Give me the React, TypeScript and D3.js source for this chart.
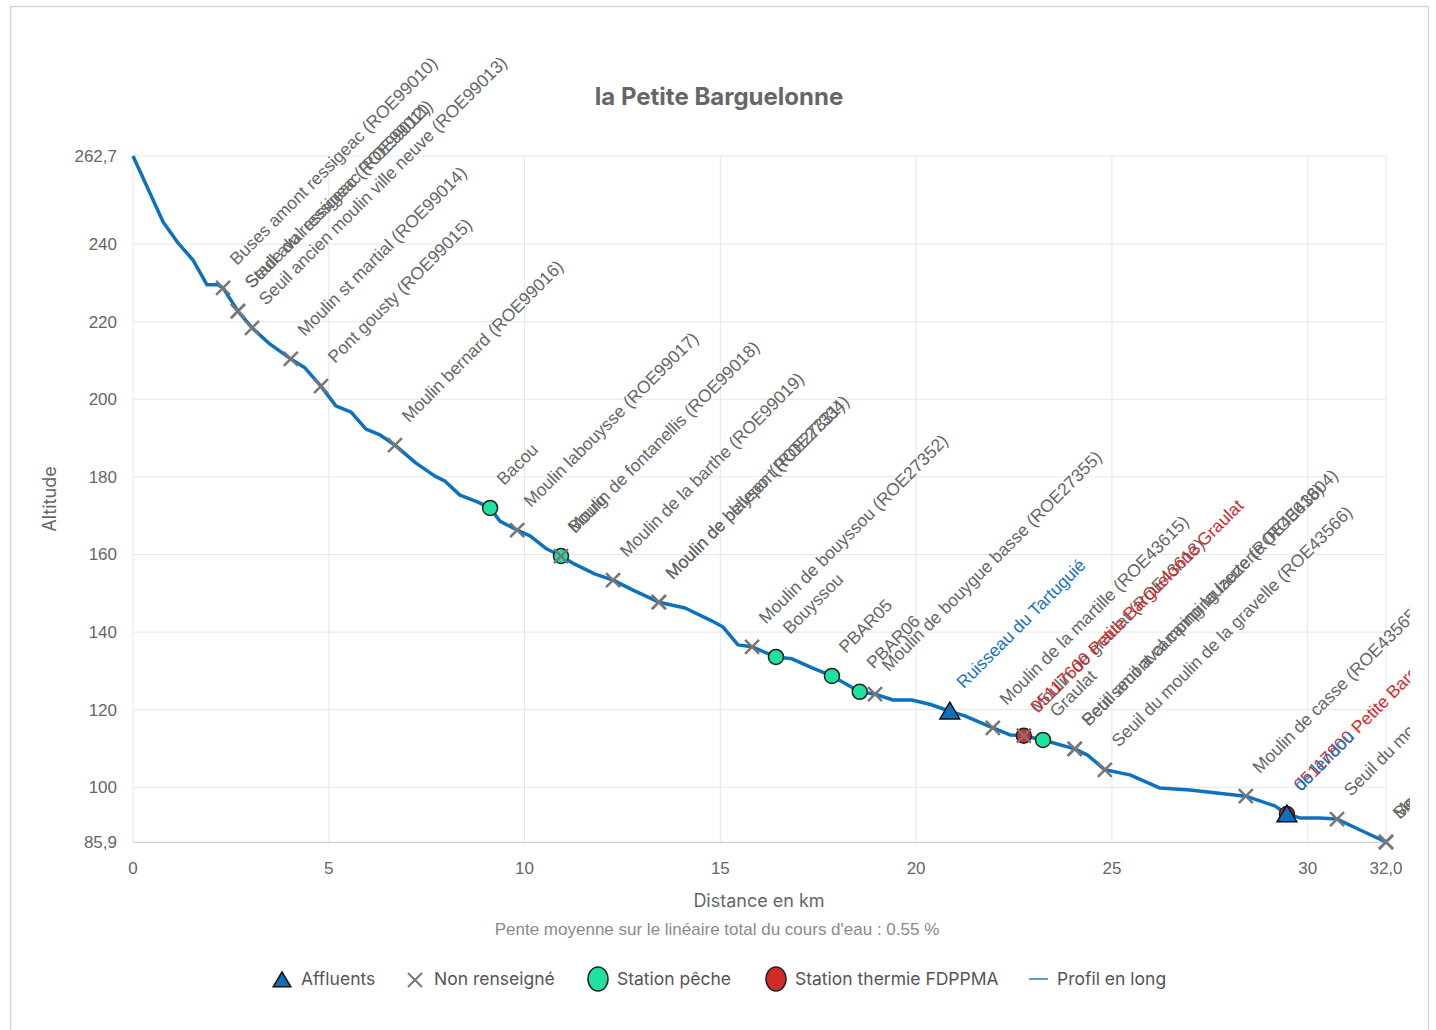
import React from 'react';
import * as d3 from 'd3';

// profil en long (km, altitude)
const profileKm = [0, 0.77, 1.15, 1.53, 1.89, 2.17, 2.3, 2.68, 3.04, 3.5, 4.03, 4.39, 4.8, 5.18, 5.57, 5.95, 6.31, 6.69, 7.22, 7.71, 7.97, 8.35, 8.81, 9.12, 9.37, 9.81, 10.14, 10.57, 10.93, 11.28, 11.79, 12.26, 12.77, 13.43, 14.1, 14.74, 15.07, 15.45, 15.81, 16.42, 16.83, 17.36, 17.85, 18.56, 18.95, 19.41, 19.89, 20.35, 20.86, 21.24, 21.96, 22.4, 22.75, 23.24, 24.05, 24.38, 24.82, 25.46, 26.23, 26.99, 28.42, 29.16, 29.47, 29.8, 30.31, 30.75, 31.34, 32.0];
const profileAlt = [262.7, 245.7, 240.3, 235.9, 229.5, 229.5, 228.7, 222.7, 218.4, 214.2, 210.4, 208.1, 203.4, 198.3, 196.7, 192.3, 190.8, 188.2, 183.6, 180.2, 178.9, 175.3, 173.5, 172.0, 168.6, 166.3, 164.8, 161.4, 159.6, 157.5, 155.0, 153.4, 150.8, 147.7, 146.2, 143.1, 141.3, 136.7, 136.2, 133.6, 133.1, 130.7, 128.7, 124.6, 124.0, 122.5, 122.5, 121.4, 119.6, 118.4, 115.3, 113.5, 113.3, 112.2, 109.9, 108.3, 104.5, 103.2, 99.8, 99.3, 97.7, 95.2, 93.1, 92.1, 92.1, 91.8, 89.0, 85.9];

// affluents
const affluentKm = [20.86, 29.47];
const affluentAlt = [119.6, 93.1];
const affluentNames = ['Ruisseau du Tartuguié', 'de lendou'];

// obstacles non renseignés
const obstacleKm = [2.3, 2.68, 2.68, 3.04, 4.03, 4.8, 6.69, 9.81, 10.93, 12.26, 13.43, 13.43, 15.81, 18.95, 21.96, 22.75, 24.05, 24.05, 24.82, 28.42, 30.75, 32.0, 32.0];
const obstacleAlt = [228.7, 222.7, 222.7, 218.4, 210.4, 203.4, 188.2, 166.3, 159.6, 153.4, 147.7, 147.7, 136.2, 124.0, 115.3, 113.3, 109.9, 109.9, 104.5, 97.7, 91.8, 85.9, 85.9];
const obstacleNames = [
  'Buses amont ressigeac (ROE99010)',
  'Seuil aval ressigeac (ROE99011)',
  'Stade du ressigeac (ROE99012)',
  'Seuil ancien moulin ville neuve (ROE99013)',
  'Moulin st martial (ROE99014)',
  'Pont gousty (ROE99015)',
  'Moulin bernard (ROE99016)',
  'Moulin labouysse (ROE99017)',
  'Moulin de fontanellis (ROE99018)',
  'Moulin de la barthe (ROE99019)',
  'Moulin de blaysen (ROE27331)',
  'Moulin de pelleport (ROE27334)',
  'Moulin de bouyssou (ROE27352)',
  'Moulin de bouygue basse (ROE27355)',
  'Moulin de la martille (ROE43615)',
  'Moulin de graulat (ROE43613)',
  'Petit seuil aval camping lauzerte (ROE43604)',
  'Seuil amont camping lauzerte (ROE43618)',
  'Seuil du moulin de la gravelle (ROE43566)',
  'Moulin de casse (ROE43565)',
  'Seuil du moulin de lendou (ROE43560)',
  'Moulin de la borde (ROE43558)',
  'Seuil du pont (ROE43557)',
];

// stations pêche
const pecheKm = [9.12, 10.93, 16.42, 17.85, 18.56, 23.24];
const pecheAlt = [172.0, 159.6, 133.6, 128.7, 124.6, 112.2];
const pecheNames = ['Bacou', 'Bourg', 'Bouyssou', 'PBAR05', 'PBAR06', 'Graulat'];

// stations thermie FDPPMA
const thermieKm = [22.75, 29.47];
const thermieAlt = [113.3, 93.1];
const thermieNames = ['05117600 Petite Barguelonne Graulat', '05117800 Petite Barguelonne Lauzerte'];

const yTicks = [85.9, 100, 120, 140, 160, 180, 200, 220, 240, 262.7];
const xTicks = [0, 5, 10, 15, 20, 25, 30, 32];

const W = 1436;
const H = 1030;
const LABEL_FONT = 'Liberation Sans, Arial, sans-serif';
const UI_FONT = 'Inter, Open Sans, sans-serif';

const fmt = (v: number) => (Number.isInteger(v) && v !== 32 ? String(v) : v.toFixed(1).replace('.', ','));

export default function App() {
  const x = d3.scaleLinear().domain([0, 32]).range([133, 1386]);
  const y = d3.scaleLinear().domain([85.9, 262.7]).range([842, 156]);

  const line = d3
    .line<number>()
    .x((d, i) => x(profileKm[i]))
    .y((d) => y(d));

  const label = (km: number, alt: number, text: string, color: string, key: string) => (
    <text
      key={key}
      transform={`translate(${x(km) + 14},${y(alt) - 22}) rotate(-45)`}
      fontFamily={LABEL_FONT}
      fontSize={17.5}
      fill={color}
    >
      {text}
    </text>
  );

  const tri = (cx: number, cy: number, s: number) =>
    `M${cx},${cy - s} L${cx + s * 1.1},${cy + s * 0.85} L${cx - s * 1.1},${cy + s * 0.85} Z`;

  const cross = (cx: number, cy: number, s: number) =>
    `M${cx - s},${cy - s} L${cx + s},${cy + s} M${cx - s},${cy + s} L${cx + s},${cy - s}`;

  return (
    <svg width={W} height={H} style={{ position: 'absolute', left: 0, top: 0, background: '#fff' }}>
      <defs>
        <clipPath id="lblclip">
          <rect x={0} y={0} width={1410} height={H} />
        </clipPath>
      </defs>
      <rect x={10.5} y={6.5} width={1418} height={1040} fill="#fff" stroke="#d6d6d6" strokeWidth={1.5} />

      {/* title */}
      <text x={719} y={105} textAnchor="middle" fontFamily={UI_FONT} fontWeight={700} fontSize={24} fill="#666">
        la Petite Barguelonne
      </text>

      {/* grid */}
      {yTicks.map((t) => (
        <line key={'gy' + t} x1={133} x2={1386} y1={y(t)} y2={y(t)} stroke="#e6e6e6" />
      ))}
      {xTicks.map((t) => (
        <line key={'gx' + t} x1={x(t)} x2={x(t)} y1={156} y2={842} stroke="#e6e6e6" />
      ))}
      <line x1={133} x2={1386} y1={842.5} y2={842.5} stroke="#d0d0d0" />

      {/* ticks */}
      {yTicks.map((t) => (
        <text key={'ty' + t} x={117} y={y(t) + 6} textAnchor="end" fontFamily={LABEL_FONT} fontSize={17} fill="#666">
          {fmt(t)}
        </text>
      ))}
      {xTicks.map((t) => (
        <text key={'tx' + t} x={x(t)} y={874} textAnchor="middle" fontFamily={LABEL_FONT} fontSize={17} fill="#666">
          {fmt(t)}
        </text>
      ))}

      <text transform="translate(56,499) rotate(-90)" textAnchor="middle" fontFamily={UI_FONT} fontSize={18} fill="#666">
        Altitude
      </text>
      <text x={759} y={907} textAnchor="middle" fontFamily={UI_FONT} fontSize={18} fill="#666">
        Distance en km
      </text>
      <text x={717} y={935} textAnchor="middle" fontFamily={LABEL_FONT} fontSize={17} fill="#8a8a8a">
        Pente moyenne sur le linéaire total du cours d'eau : 0.55 %
      </text>

      {/* profile */}
      <path d={line(profileAlt) || ''} fill="none" stroke="#0d72bd" strokeWidth={3.5} strokeLinejoin="round" />

      {/* markers */}
      {thermieKm.map((k, i) => (
        <circle key={'th' + i} cx={x(k)} cy={y(thermieAlt[i])} r={7.5} fill="#d42a2a" stroke="#222" strokeWidth={1.5} />
      ))}
      {pecheKm.map((k, i) => (
        <circle key={'pe' + i} cx={x(k)} cy={y(pecheAlt[i])} r={7.5} fill="#1ee3a0" stroke="#222" strokeWidth={1.5} />
      ))}
      {obstacleKm.map((k, i) => (
        <path key={'ob' + i} d={cross(x(k), y(obstacleAlt[i]), 7)} stroke="#777" strokeWidth={2.5} fill="none" />
      ))}
      {affluentKm.map((k, i) => (
        <path key={'af' + i} d={tri(x(k), y(affluentAlt[i]), 9)} fill="#0f6fbf" stroke="#111" strokeWidth={1.5} />
      ))}

      {/* data labels */}
      <g clipPath="url(#lblclip)">
        {obstacleKm.map((k, i) => label(k, obstacleAlt[i], obstacleNames[i], '#666', 'lo' + i))}
        {pecheKm.map((k, i) => label(k, pecheAlt[i], pecheNames[i], '#666', 'lp' + i))}
        {thermieKm.map((k, i) => label(k, thermieAlt[i], thermieNames[i], '#d42a2a', 'lt' + i))}
        {affluentKm.map((k, i) => label(k, affluentAlt[i], affluentNames[i], '#1a72bb', 'la' + i))}
      </g>

      {/* legend */}
      <g fontFamily={UI_FONT} fontSize={17.5} fill="#555">
        <path d={tri(282, 980, 8)} fill="#0f6fbf" stroke="#111" strokeWidth={1.5} />
        <text x={301} y={985}>Affluents</text>
        <path d={cross(415, 980, 7)} stroke="#777" strokeWidth={2} fill="none" />
        <text x={434} y={985}>Non renseigné</text>
        <ellipse cx={598} cy={979} rx={10} ry={12} fill="#1ee3a0" stroke="#222" strokeWidth={1.5} />
        <text x={617} y={985}>Station pêche</text>
        <ellipse cx={776} cy={979} rx={10} ry={12} fill="#d42a2a" stroke="#222" strokeWidth={1.5} />
        <text x={795} y={985}>Station thermie FDPPMA</text>
        <line x1={1029} x2={1048} y1={979} y2={979} stroke="#5aa0d8" strokeWidth={2} />
        <text x={1057} y={985}>Profil en long</text>
      </g>
    </svg>
  );
}
